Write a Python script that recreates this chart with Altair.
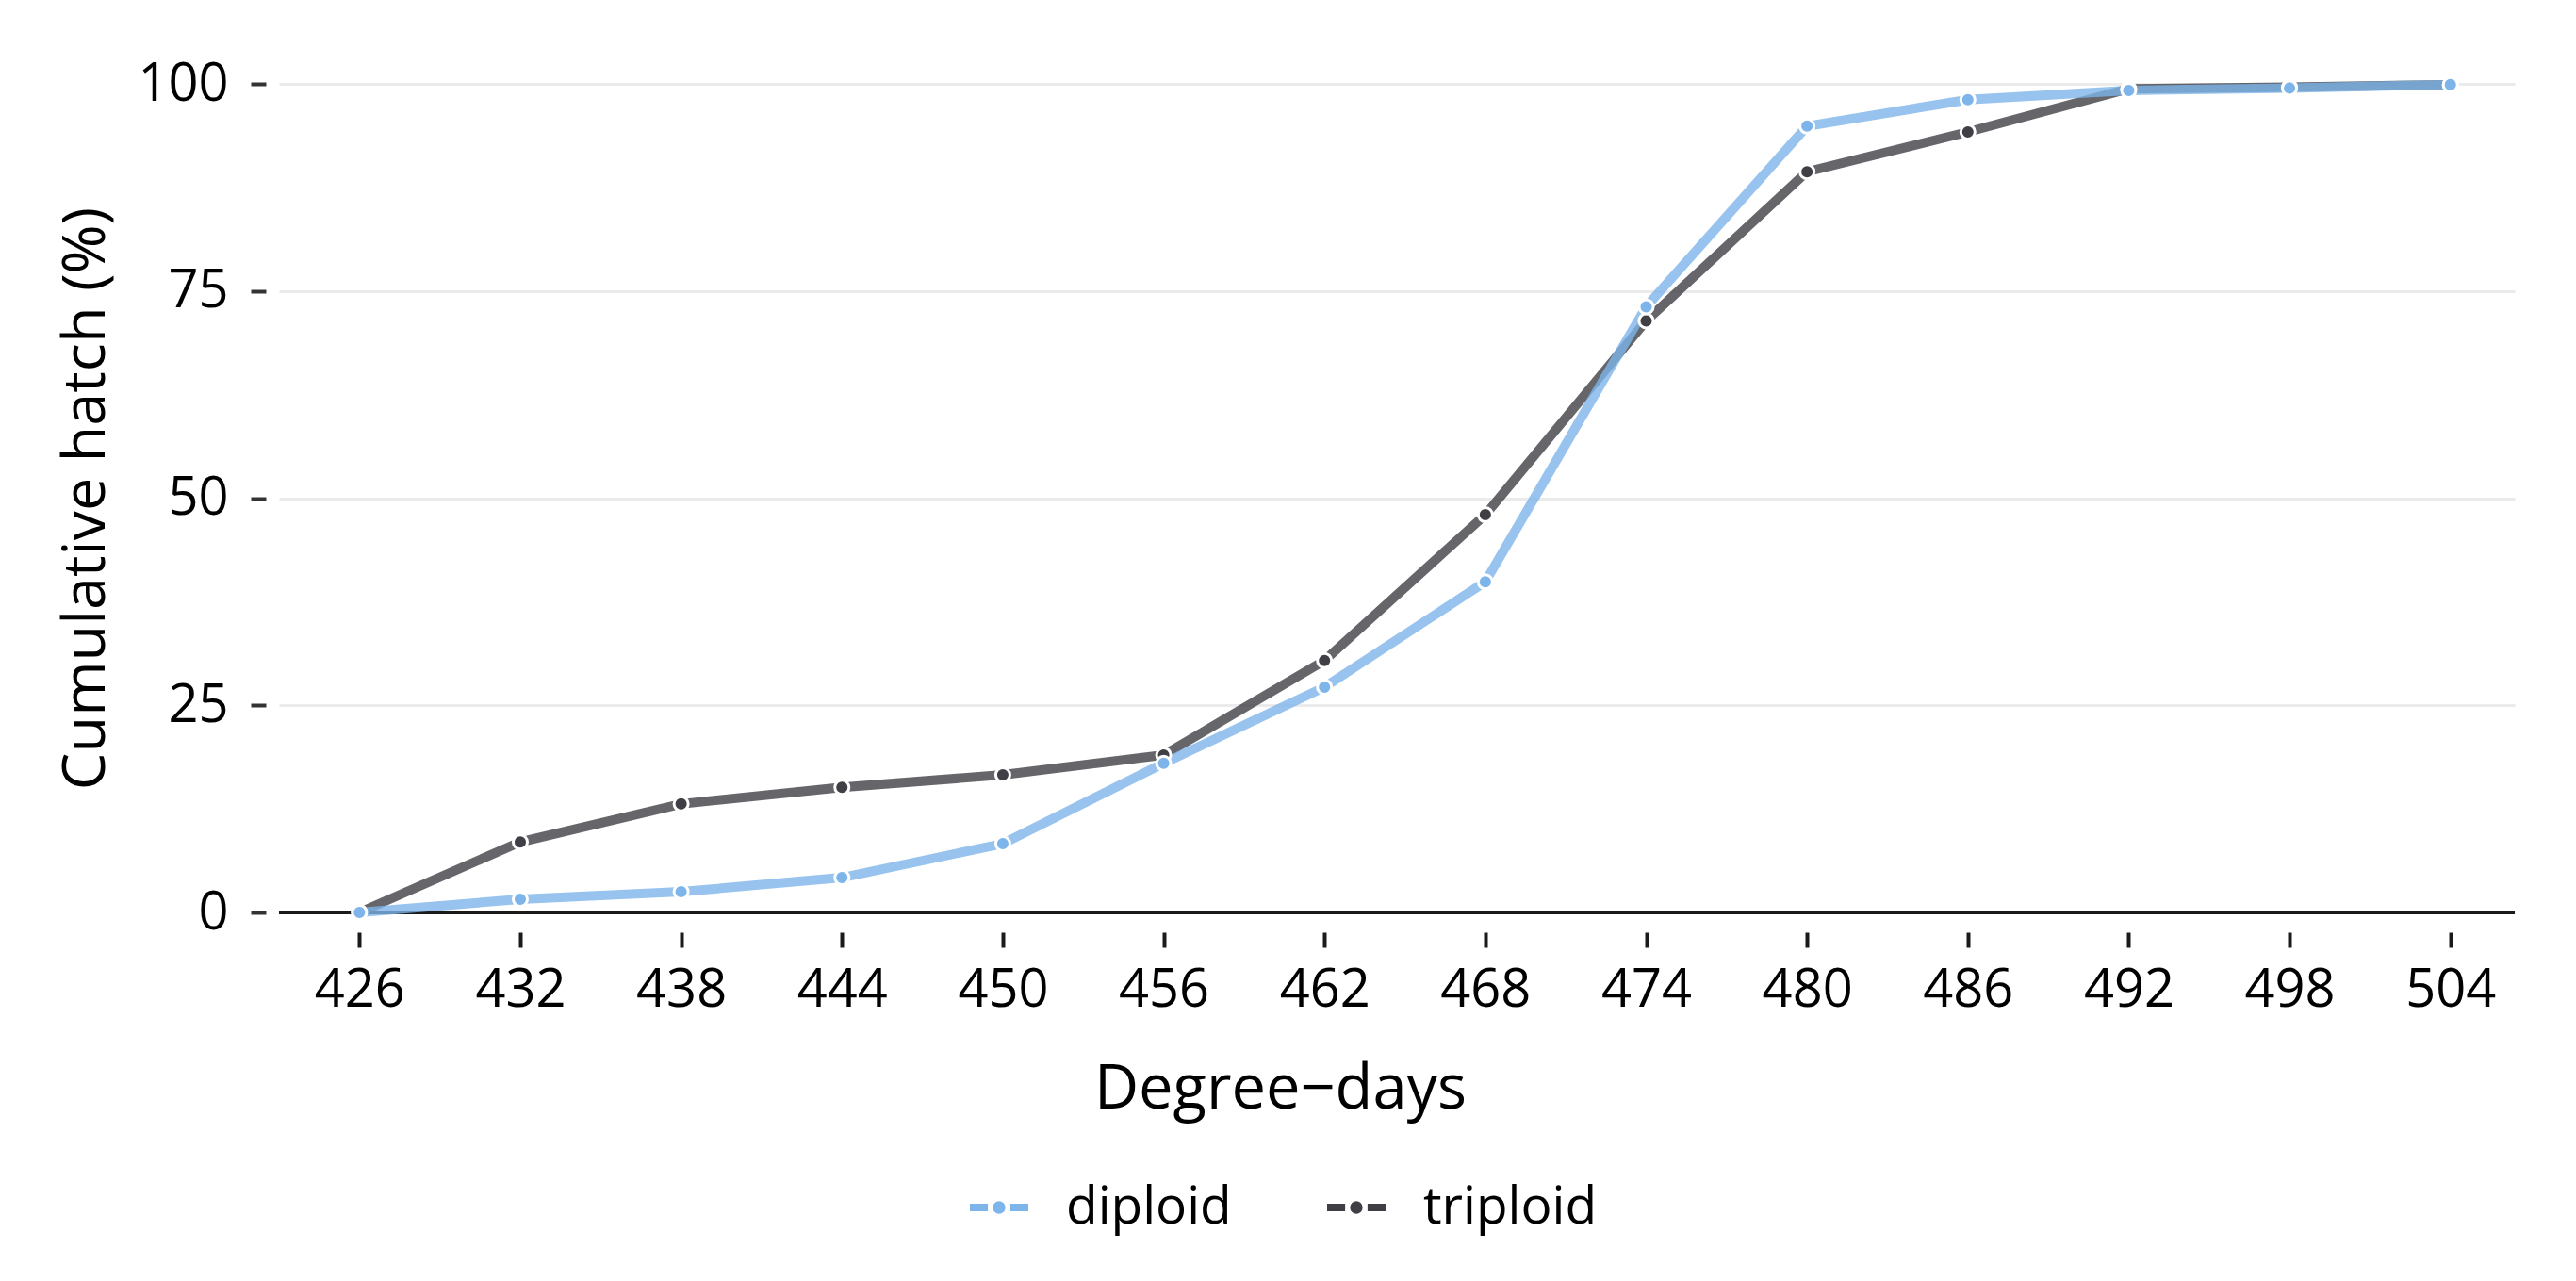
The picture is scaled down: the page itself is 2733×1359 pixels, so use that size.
import altair as alt
import pandas as pd

# ---- data ----
degree_days = [426, 432, 438, 444, 450, 456, 462, 468, 474, 480, 486, 492, 498, 504]
diploid = [0.0, 1.6, 2.5, 4.2, 8.3, 18.0, 27.2, 39.9, 73.1, 94.9, 98.1, 99.2, 99.5, 99.9]
triploid = [0.0, 8.5, 13.1, 15.1, 16.6, 19.0, 30.4, 48.0, 71.4, 89.4, 94.2, 99.4, 99.6, 99.9]
groups = ["diploid", "triploid"]
colors = ["#7db4ea", "#3f3f45"]
y_ticks = [0, 25, 50, 75, 100]

rows = []
for g, vals in (("triploid", triploid), ("diploid", diploid)):
    for d, v in zip(degree_days, vals):
        rows.append({"dd": d, "pct": v, "ploidy": g})
df = pd.DataFrame(rows)

FONT = "Open Sans"

xscale = alt.Scale(domain=[423, 506.4], nice=False, zero=False)
yscale = alt.Scale(domain=[0, 100], nice=False)

x_enc = alt.X(
    "dd:Q",
    scale=xscale,
    axis=alt.Axis(
        values=degree_days, format="d", offset=21, tickSize=16, tickWidth=4,
        tickColor="#1a1a1a", domain=False, grid=False,
        labelFont=FONT, labelFontSize=56, labelColor="black", labelPadding=18,
        title="Degree\u2212days", titleFont=FONT, titleFontSize=65,
        titleFontWeight="normal", titleColor="black",
        titleX=1062, titleY=186, titleBaseline="alphabetic", titleAlign="center",
    ),
)
y_enc = alt.Y(
    "pct:Q",
    scale=yscale,
    axis=alt.Axis(
        values=y_ticks, offset=14, tickSize=16, tickWidth=4, tickColor="#333333",
        domain=False, grid=True, gridColor="#ebebeb", gridWidth=3,
        labelFont=FONT, labelFontSize=56, labelColor="black", labelPadding=24,
        title="Cumulative hatch (%)", titleFont=FONT, titleFontSize=63,
        titleFontWeight="normal", titleColor="black", titlePadding=22,
    ),
)

base = alt.Chart(df)

zero_rule = alt.Chart(pd.DataFrame({"v": [0]})).mark_rule(
    color="#1a1a1a", strokeWidth=4
).encode(y=alt.datum(0, scale=yscale))

line_tri = base.transform_filter("datum.ploidy == 'triploid'").mark_line(
    color=colors[1], strokeWidth=10, opacity=0.8
).encode(x=x_enc, y=y_enc)

line_di = base.transform_filter("datum.ploidy == 'diploid'").mark_line(
    color=colors[0], strokeWidth=10, opacity=0.8
).encode(x=x_enc, y=y_enc)

SYMBOL = (
    "M-1,-0.16H-0.34V0.16H-1Z "
    "M0.34,-0.16H1V0.16H0.34Z "
    "M0,-0.24A0.24,0.24,0,1,1,0,0.24A0.24,0.24,0,1,1,0,-0.24Z"
)

points = base.mark_point(
    filled=True, size=227, stroke="white", strokeWidth=3, opacity=1
).encode(
    x=x_enc,
    y=y_enc,
    color=alt.Color(
        "ploidy:N",
        scale=alt.Scale(domain=groups, range=colors),
        legend=alt.Legend(
            title=None, orient="none", legendX=731, legendY=1159,
            direction="horizontal", symbolType=SYMBOL, symbolSize=4096,
            symbolStrokeColor="white", symbolStrokeWidth=2,
            symbolOpacity=1, labelFont=FONT, labelFontSize=55,
            labelColor="black", labelOffset=38, columnPadding=96,
            labelLimit=1000,
        ),
    ),
)

chart = (
    alt.layer(zero_rule, line_tri, line_di, points)
    .properties(
        width=2372,
        height=879,
        autosize=alt.AutoSizeParams(type="none"),
        padding={"left": 288, "top": 81, "right": 40, "bottom": 370},
    )
    .configure(font=FONT)
    .configure_view(strokeWidth=0, stroke="transparent")
)

chart.save("out.html", embed_options={"renderer": "svg", "actions": False})
